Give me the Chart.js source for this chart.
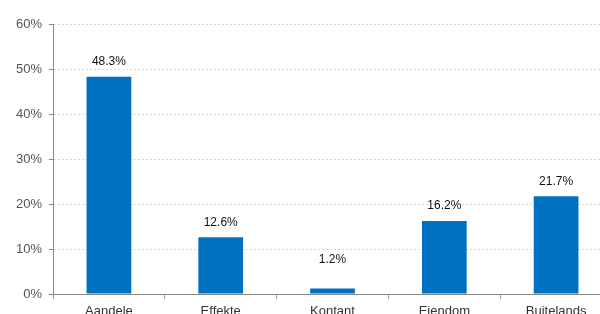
<!DOCTYPE html>
<html>
<head>
<meta charset="utf-8">
<script src="https://cdn.jsdelivr.net/npm/chart.js@4"></script>
<style>
  html, body { margin: 0; padding: 0; background: #fff; overflow: hidden; }
  #wrap { width: 612px; height: 330px; }
</style>
</head>
<body>
<div id="wrap"><canvas id="chart" width="612" height="330"></canvas></div>
<script>
const categories = ['Aandele', 'Effekte', 'Kontant', 'Eiendom', 'Buitelands'];
const values = [48.3, 12.6, 1.2, 16.2, 21.7];
const yTicks = [0, 10, 20, 30, 40, 50, 60];

const FONT = '"Liberation Sans", Arial, sans-serif';

// value labels above each bar (small bars get pushed up a bit, like Excel does)
const barLabels = {
  id: 'barLabels',
  afterDatasetsDraw(chart) {
    const ctx = chart.ctx;
    const meta = chart.getDatasetMeta(0);
    const zeroY = chart.scales.y.getPixelForValue(0);
    ctx.save();
    ctx.font = '12px ' + FONT;
    ctx.fillStyle = '#111';
    ctx.textAlign = 'center';
    ctx.textBaseline = 'bottom';
    meta.data.forEach((bar, i) => {
      const y = Math.min(bar.y - 9, zeroY - 28);
      ctx.fillText(values[i].toFixed(1) + '%', bar.x, y);
    });
    ctx.restore();
  }
};

new Chart(document.getElementById('chart'), {
  type: 'bar',
  data: {
    labels: categories,
    datasets: [{
      data: values,
      backgroundColor: '#0070C0',
      barPercentage: 0.4,
      categoryPercentage: 1.0
    }]
  },
  options: {
    responsive: false,
    animation: false,
    layout: { padding: { top: 24, right: 0, left: 9, bottom: 0 } },
    plugins: { legend: { display: false }, tooltip: { enabled: false } },
    scales: {
      x: {
        afterFit(scale) { scale.height = 36; },
        grid: { display: true, drawOnChartArea: false, drawTicks: true, tickLength: 5, tickColor: '#999' },
        border: { color: '#888' },
        ticks: { color: '#333', padding: 5, font: { family: FONT, size: 13 } }
      },
      y: {
        min: 0,
        max: 60,
        afterBuildTicks(scale) { scale.ticks = yTicks.map(v => ({ value: v })); },
        grid: { color: '#d8d8d8', tickColor: '#888', tickLength: 4 },
        border: { color: '#888', dash: [2, 2] },
        ticks: {
          color: '#555',
          padding: 7,
          font: { family: FONT, size: 13 },
          callback: v => v + '%'
        }
      }
    }
  },
  plugins: [barLabels]
});
</script>
</body>
</html>
